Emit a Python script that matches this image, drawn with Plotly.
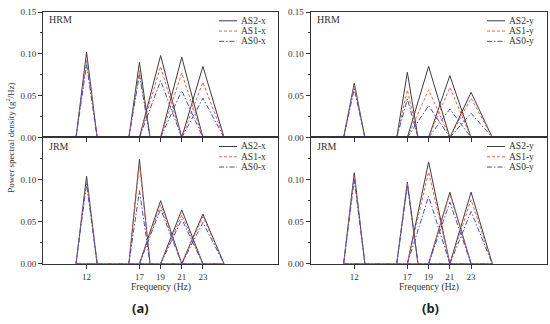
import plotly.graph_objects as go

# ---- data ----
freqs = [12, 17, 19, 21, 23]
half_width = [1, 1, 2, 2, 2]          # triangle half base (Hz)
tick_freqs = [12, 17, 19, 21, 23]

hrm_as2_x = [0.102, 0.090, 0.098, 0.096, 0.085]
hrm_as1_x = [0.092, 0.080, 0.085, 0.077, 0.066]
hrm_as0_x = [0.087, 0.075, 0.068, 0.056, 0.047]

jrm_as2_x = [0.104, 0.124, 0.075, 0.064, 0.059]
jrm_as1_x = [0.099, 0.118, 0.070, 0.058, 0.056]
jrm_as0_x = [0.095, 0.087, 0.065, 0.053, 0.049]

hrm_as2_y = [0.065, 0.078, 0.085, 0.074, 0.054]
hrm_as1_y = [0.062, 0.057, 0.057, 0.060, 0.047]
hrm_as0_y = [0.058, 0.046, 0.038, 0.034, 0.029]

jrm_as2_y = [0.108, 0.097, 0.121, 0.085, 0.085]
jrm_as1_y = [0.104, 0.095, 0.109, 0.083, 0.076]
jrm_as0_y = [0.100, 0.093, 0.080, 0.073, 0.062]

names = ["AS2", "AS1", "AS0"]
colors = ["#3c3c3c", "#e0654f", "#3d4fc6"]
dashes = ["solid", "3px,2px", "5px,2px,1.5px,2px"]

SERIF = "Liberation Serif"
W, H = 550, 324


def px(x):
    return x / W


def py(y):
    return 1 - y / H


# (xaxis, yaxis, tag, suffix, series, legend line x0, legend top row y, tag x, tag y)
panels = [
    ("x", "y", "HRM", "x", [hrm_as2_x, hrm_as1_x, hrm_as0_x], 219, 16.3, 47, 14.5),
    ("x2", "y2", "HRM", "y", [hrm_as2_y, hrm_as1_y, hrm_as0_y], 487, 16.3, 314.5, 14.5),
    ("x3", "y3", "JRM", "x", [jrm_as2_x, jrm_as1_x, jrm_as0_x], 219, 146, 47, 145.5),
    ("x4", "y4", "JRM", "y", [jrm_as2_y, jrm_as1_y, jrm_as0_y], 487, 146, 314.5, 145.5),
]


def tri_path(peaks):
    xs, ys = [], []
    lo = min(f - h for f, h in zip(freqs, half_width))
    hi = max(f + h for f, h in zip(freqs, half_width))
    xs += [lo, hi, None]
    ys += [0, 0, None]
    for f, h, p in zip(freqs, half_width, peaks):
        xs += [f - h, f, f + h, None]
        ys += [0, p, 0, None]
    return xs, ys


fig = go.Figure()
shapes, ann = [], []
for xa, ya, tag, suf, series, lx, ly, tx, ty in panels:
    for i, (name, col, dsh, vals) in enumerate(zip(names, colors, dashes, series)):
        xs, ys = tri_path(vals)
        fig.add_trace(go.Scatter(
            x=xs, y=ys, mode="lines", xaxis=xa, yaxis=ya,
            name=f"{name}-{suf}", showlegend=False,
            line=dict(color=col, width=1, dash=dsh),
        ))
        # legend entry (manual, compact like the reference)
        yy = ly + i * 10.6
        shapes.append(dict(type="line", xref="paper", yref="paper",
                           x0=px(lx), x1=px(lx + 18), y0=py(yy), y1=py(yy),
                           line=dict(color=col, width=1, dash=dsh)))
        ann.append(dict(x=px(lx + 20), y=py(yy), xref="paper", yref="paper",
                        text=f"{name}-{suf}", showarrow=False,
                        xanchor="left", yanchor="middle",
                        font=dict(family=SERIF, size=9.5, color="#333")))
    ann.append(dict(x=px(tx), y=py(ty), xref="paper", yref="paper", text=tag,
                    showarrow=False, xanchor="left", yanchor="middle",
                    font=dict(family=SERIF, size=10, color="#333")))

xdom_l = [px(43), px(278)]
xdom_r = [px(310.5), px(546.5)]
ydom_t = [py(136.7), py(7.3)]
ydom_b = [py(267), py(136.7)]

axis_common = dict(
    showline=True, mirror=True, linecolor="#333", linewidth=1,
    ticks="outside", tickcolor="#333", ticklen=4, tickwidth=1,
    showgrid=False, zeroline=False,
    tickfont=dict(family=SERIF, size=9, color="#333"),
)
xr = [7.88, 30.1]
layout = dict(
    width=W, height=H, margin=dict(l=0, r=0, t=0, b=0),
    paper_bgcolor="white", plot_bgcolor="white",
    font=dict(family=SERIF, color="#333"), showlegend=False,
)
for key, dom, anchor, labels in [
    ("xaxis", xdom_l, "y", False),
    ("xaxis2", xdom_r, "y2", False),
    ("xaxis3", xdom_l, "y3", True),
    ("xaxis4", xdom_r, "y4", True),
]:
    layout[key] = dict(axis_common, domain=dom, anchor=anchor, range=xr,
                       tickmode="array", tickvals=tick_freqs,
                       showticklabels=labels)
for key, dom, anchor, vals in [
    ("yaxis", ydom_t, "x", [0, 0.05, 0.10, 0.15]),
    ("yaxis2", ydom_t, "x2", [0, 0.05, 0.10, 0.15]),
    ("yaxis3", ydom_b, "x3", [0, 0.05, 0.10]),
    ("yaxis4", ydom_b, "x4", [0, 0.05, 0.10]),
]:
    layout[key] = dict(axis_common, domain=dom, anchor=anchor, range=[0, 0.15],
                       tickmode="array", tickvals=vals,
                       ticktext=[f"{v:.2f}" for v in vals],
                       minor=dict(tickmode="array", tickvals=[0.025, 0.075, 0.125],
                                  ticks="outside", ticklen=2, tickcolor="#333"))
fig.update_layout(**layout)

ann.append(dict(x=px(10), y=py(137), xref="paper", yref="paper",
                text="Power spectral density (g<sup>2</sup>/Hz)", textangle=-90,
                showarrow=False, xanchor="center", yanchor="middle",
                font=dict(family=SERIF, size=9, color="#333")))
for xc in [161, 429]:
    ann.append(dict(x=px(xc), y=py(291.5), xref="paper", yref="paper",
                    text="Frequency (Hz)", showarrow=False,
                    xanchor="center", yanchor="middle",
                    font=dict(family=SERIF, size=9.5, color="#333")))
for xc, t in [(140.5, "(a)"), (430, "(b)")]:
    ann.append(dict(x=px(xc), y=py(313), xref="paper", yref="paper",
                    text=f"<b>{t}</b>", showarrow=False,
                    xanchor="center", yanchor="middle",
                    font=dict(family="Noto Sans", size=13, color="#222")))
fig.update_layout(annotations=ann, shapes=shapes)

fig.write_html("out.html", config={"displayModeBar": False},
               post_script="document.body.style.margin='0';document.body.style.overflow='hidden';")
